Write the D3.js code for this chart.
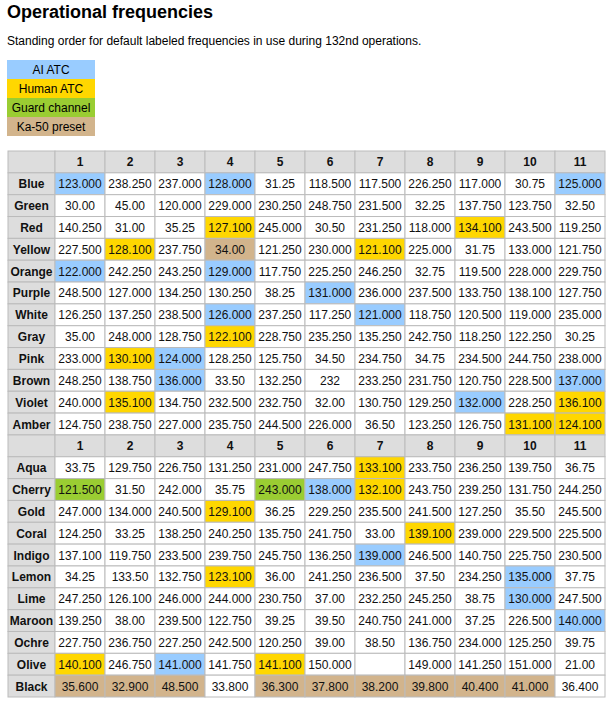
<!DOCTYPE html>
<html><head><meta charset="utf-8">
<script src="https://cdn.jsdelivr.net/npm/d3@7"></script>
<style>body{margin:0;background:#fff;font-family:"Liberation Sans",Arial,sans-serif}</style>
</head><body><div id="chart"></div>
<script>
// Data
let colLabels = ['1','2','3','4','5','6','7','8','9','10','11'];
let rowsA = ['Blue','Green','Red','Yellow','Orange','Purple','White','Gray','Pink','Brown','Violet','Amber'];
let rowsB = ['Aqua','Cherry','Gold','Coral','Indigo','Lemon','Lime','Maroon','Ochre','Olive','Black'];
let values = {
  Blue:['123.000','238.250','237.000','128.000','31.25','118.500','117.500','226.250','117.000','30.75','125.000'],
  Green:['30.00','45.00','120.000','229.000','230.250','248.750','231.500','32.25','137.750','123.750','32.50'],
  Red:['140.250','31.00','35.25','127.100','245.000','30.50','231.250','118.000','134.100','243.500','119.250'],
  Yellow:['227.500','128.100','237.750','34.00','121.250','230.000','121.100','225.000','31.75','133.000','121.750'],
  Orange:['122.000','242.250','243.250','129.000','117.750','225.250','246.250','32.75','119.500','228.000','229.750'],
  Purple:['248.500','127.000','134.250','130.250','38.25','131.000','236.000','237.500','133.750','138.100','127.750'],
  White:['126.250','137.250','238.500','126.000','237.250','117.250','121.000','118.750','120.500','119.000','235.000'],
  Gray:['35.00','248.000','128.750','122.100','228.750','235.250','135.250','242.750','118.250','122.250','30.25'],
  Pink:['233.000','130.100','124.000','128.250','125.750','34.50','234.750','34.75','234.500','244.750','238.000'],
  Brown:['248.250','138.750','136.000','33.50','132.250','232','233.250','231.750','120.750','228.500','137.000'],
  Violet:['240.000','135.100','134.750','232.500','232.750','32.00','130.750','129.250','132.000','228.250','136.100'],
  Amber:['124.750','238.750','227.000','235.750','244.500','226.000','36.50','123.250','126.750','131.100','124.100'],
  Aqua:['33.75','129.750','226.750','131.250','231.000','247.750','133.100','233.750','236.250','139.750','36.75'],
  Cherry:['121.500','31.50','242.000','35.75','243.000','138.000','132.100','243.750','239.250','131.750','244.250'],
  Gold:['247.000','134.000','240.500','129.100','36.25','229.250','235.500','241.500','127.250','35.50','245.500'],
  Coral:['124.250','33.25','138.250','240.250','135.750','241.750','33.00','139.100','239.000','229.500','225.500'],
  Indigo:['137.100','119.750','233.500','239.750','245.750','136.250','139.000','246.500','140.750','225.750','230.500'],
  Lemon:['34.25','133.50','132.750','123.100','36.00','241.250','236.500','37.50','234.250','135.000','37.75'],
  Lime:['247.250','126.100','246.000','244.000','230.750','37.00','232.250','245.250','38.75','130.000','247.500'],
  Maroon:['139.250','38.00','239.500','122.750','39.25','39.50','240.750','241.000','37.25','226.500','140.000'],
  Ochre:['227.750','236.750','227.250','242.500','120.250','39.00','38.50','136.750','234.000','125.250','39.75'],
  Olive:['140.100','246.750','141.000','141.750','141.100','150.000','','149.000','141.250','151.000','21.00'],
  Black:['35.600','32.900','48.500','33.800','36.300','37.800','38.200','39.800','40.400','41.000','36.400']
};
// highlighted cells: row, column (1-based), category
let highlights = [
  ['Blue',1,'ai'],['Blue',4,'ai'],['Blue',11,'ai'],
  ['Red',4,'human'],['Red',9,'human'],
  ['Yellow',2,'human'],['Yellow',4,'ka'],['Yellow',7,'human'],
  ['Orange',1,'ai'],['Orange',4,'ai'],
  ['Purple',6,'ai'],
  ['White',4,'ai'],['White',7,'ai'],
  ['Gray',4,'human'],
  ['Pink',2,'human'],['Pink',3,'ai'],
  ['Brown',3,'ai'],['Brown',11,'ai'],
  ['Violet',2,'human'],['Violet',9,'ai'],['Violet',11,'human'],
  ['Amber',10,'human'],['Amber',11,'human'],
  ['Aqua',7,'human'],
  ['Cherry',1,'guard'],['Cherry',5,'guard'],['Cherry',6,'ai'],['Cherry',7,'human'],
  ['Gold',4,'human'],
  ['Coral',8,'human'],
  ['Indigo',7,'ai'],
  ['Lemon',4,'human'],['Lemon',10,'ai'],
  ['Lime',10,'ai'],
  ['Maroon',11,'ai'],
  ['Olive',1,'human'],['Olive',3,'ai'],['Olive',5,'human'],
  ['Black',1,'ka'],['Black',2,'ka'],['Black',3,'ka'],['Black',5,'ka'],['Black',6,'ka'],
  ['Black',7,'ka'],['Black',8,'ka'],['Black',9,'ka'],['Black',10,'ka']
];
let legendKeys = ['ai','human','guard','ka'];
let legendLabels = ['AI ATC','Human ATC','Guard channel','Ka-50 preset'];
let legendColors = ['#99ccff','#ffd700','#9acd32','#d2b48c'];

let width = 613, height = 703;
let svg = d3.select('#chart').append('svg').attr('width', width).attr('height', height);
let color = d3.scaleOrdinal().domain(legendKeys).range(legendColors);
let hl = {};
highlights.forEach(h => hl[h[0] + '|' + h[1]] = h[2]);

// Title
svg.append('text').text('Operational frequencies')
  .attr('x', 7).attr('y', 18).attr('font-size', 18).attr('font-weight', 'bold');
svg.append('text').text('Standing order for default labeled frequencies in use during 132nd operations.')
  .attr('x', 7).attr('y', 45).attr('font-size', 12);

// Legend
let ly = d3.scaleBand().domain(legendKeys).range([60, 136]);
let leg = svg.append('g');
legendKeys.forEach((k, i) => {
  leg.append('rect').attr('x', 7).attr('y', ly(k)).attr('width', 88).attr('height', ly.bandwidth()).attr('fill', color(k));
  leg.append('text').text(legendLabels[i]).attr('x', 51).attr('y', ly(k) + ly.bandwidth() / 2 + 4.5)
    .attr('text-anchor', 'middle').attr('font-size', 12);
});

// Table
let allRows = ['hdrA'].concat(rowsA, ['hdrB'], rowsB);
let y = d3.scaleBand().domain(allRows).range([151, 697]);
let x = d3.scaleBand().domain(colLabels).range([55, 605]);
let xs = c => c === 'name' ? 8 : x(c);
let ws = c => c === 'name' ? 47 : x.bandwidth();
let cols = ['name'].concat(colLabels);
let tbl = svg.append('g');
allRows.forEach(r => {
  let isHdr = r.startsWith('hdr');
  cols.forEach((c, ci) => {
    let fill, txt, bold = false;
    if (c === 'name') { fill = '#dddddd'; txt = isHdr ? '' : r; bold = true; }
    else if (isHdr) { fill = '#dddddd'; txt = c; bold = true; }
    else {
      let k = hl[r + '|' + c];
      fill = k ? color(k) : '#ffffff';
      txt = values[r][ci - 1];
    }
    tbl.append('rect').attr('x', xs(c)).attr('y', y(r)).attr('width', ws(c)).attr('height', y.bandwidth())
      .attr('fill', fill).attr('stroke', '#bbbbbb').attr('stroke-width', 1);
    tbl.append('text').text(txt).attr('x', xs(c) + ws(c) / 2).attr('y', y(r) + y.bandwidth() / 2 + 4.5)
      .attr('text-anchor', 'middle').attr('font-size', 12).attr('font-weight', bold ? 'bold' : 'normal')
      .attr('fill', '#111');
  });
});
</script></body></html>
